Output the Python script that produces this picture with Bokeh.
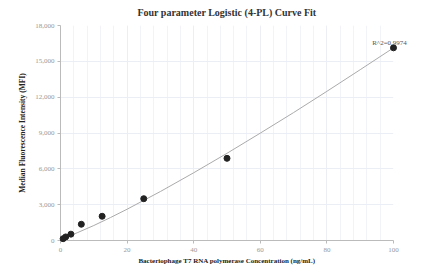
from bokeh.plotting import figure
from bokeh.models import Range1d, SingleIntervalTicker, NumeralTickFormatter
from bokeh.embed import file_html
from bokeh.resources import INLINE

# measured standards
conc = [0.78, 1.56, 3.125, 6.25, 12.5, 25, 50, 100]
mfi = [150, 300, 530, 1360, 2030, 3500, 6880, 16130]

# fitted curve
curve_x = [0, 2, 5, 10, 15, 20, 30, 40, 50, 60, 70, 80, 90, 100]
curve_y = [150, 320, 645, 1255, 1920, 2620, 4100, 5670, 7300, 8990, 10710, 12490, 14300, 16130]

r2_text = "R^2=0.9974"
title = "Four parameter Logistic (4-PL) Curve Fit"
x_label = "Bacteriophage T7 RNA polymerase Concentration (ng/mL)"
y_label = "Median Fluorescence Intensity (MFI)"

serif = "Liberation Serif"

p = figure(width=425, height=273, output_backend="svg", toolbar_location=None,
           x_range=Range1d(0, 100), y_range=Range1d(0, 18000),
           min_border_left=60, min_border_right=32, min_border_top=0, min_border_bottom=33)
p.outline_line_color = None
p.background_fill_color = "white"
p.border_fill_color = "white"

p.title.text = title
p.title.align = "center"
p.title.vertical_align = "top"
p.title.text_font = serif
p.title.text_font_style = "bold"
p.title.text_font_size = "10px"
p.title.text_color = "#333333"
p.title.standoff = 12
p.title.padding = 0
p.title.offset = 0

p.xaxis.ticker = SingleIntervalTicker(interval=20, num_minor_ticks=5)
p.yaxis.ticker = SingleIntervalTicker(interval=3000, num_minor_ticks=0)
p.yaxis.formatter = NumeralTickFormatter(format="0,0")

for ax in (p.xaxis[0], p.yaxis[0]):
    ax.axis_line_color = "#bbbbbb"
    ax.major_tick_line_color = "#bbbbbb"
    ax.major_tick_out = 3
    ax.major_tick_in = 0
    ax.minor_tick_line_color = None
    ax.major_label_text_font = serif
    ax.major_label_text_font_size = "7px"
    ax.major_label_text_color = "#999999"
    ax.axis_label_text_font = serif
    ax.axis_label_text_font_style = "bold"
    ax.axis_label_text_color = "#222222"

p.xaxis.axis_label_text_font_size = "7px"
p.yaxis.axis_label_text_font_size = "7.5px"
p.xaxis.axis_label = x_label
p.yaxis.axis_label = y_label
p.xaxis.major_label_standoff = 3
p.yaxis.major_label_standoff = 3
p.xaxis.axis_label_standoff = 2
p.yaxis.axis_label_standoff = 5

p.xgrid.grid_line_color = "#eceef5"
p.xgrid.minor_grid_line_color = "#f2f3f8"
p.ygrid.grid_line_color = "#eceef5"

p.line(curve_x, curve_y, line_color="#aaaaaa", line_width=1)
p.scatter(conc, mfi, size=6, fill_color="#222222", line_color="#222222", level="overlay")

p.text(x=[conc[-1]], y=[mfi[-1]], text=[r2_text], text_font="Liberation Sans",
       text_font_size="7px", text_color="#555555", text_align="center",
       text_baseline="middle", x_offset=-4, y_offset=-5, level="overlay")

open("out.html", "w").write(file_html(p, INLINE))
